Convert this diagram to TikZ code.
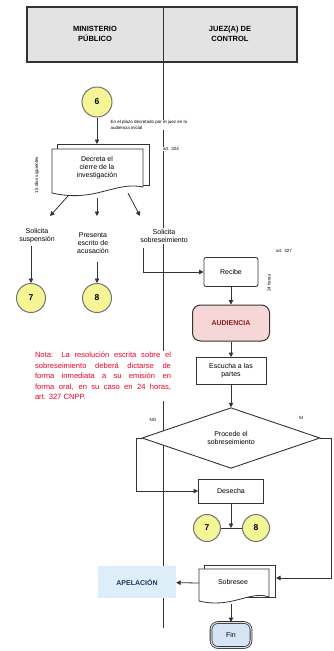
\documentclass[tikz,border=0pt]{standalone}
\usepackage{fontspec}
\setmainfont{Liberation Sans}
\usetikzlibrary{arrows.meta,shapes.geometric}
\definecolor{circfill}{RGB}{245,245,150}
\definecolor{audfill}{RGB}{246,214,214}
\definecolor{audtext}{RGB}{140,30,30}
\definecolor{apefill}{RGB}{222,238,248}
\definecolor{apetext}{RGB}{30,55,85}
\definecolor{finfill}{RGB}{215,228,245}
\definecolor{notered}{RGB}{240,0,40}
\begin{document}
\begin{tikzpicture}[x=1pt,y=-1pt,
  line/.style={draw=black!80, line width=0.8pt},
  arr/.style={line, -{Triangle[length=4.5pt,width=4.5pt]}},
  conn/.style={circle, draw=black!55, line width=1pt, fill=circfill, minimum size=28pt, inner sep=0pt, font=\fontsize{8.5}{9}\selectfont\bfseries},
  box/.style={draw=black!80, line width=0.8pt, fill=white, align=center, font=\fontsize{7}{8}\selectfont, inner sep=1pt},
  lbl/.style={align=center, font=\fontsize{7}{8}\selectfont, inner sep=1pt},
  small/.style={font=\fontsize{4.5}{5.5}\selectfont, inner sep=0.5pt},
  head/.style={align=center, font=\fontsize{7.5}{10}\selectfont\bfseries, inner sep=1pt}]
\useasboundingbox (0,0) rectangle (333,651);

% header
\fill[gray!22] (27,7) rectangle (297,62);
\draw[line width=1.2pt, draw=black!80] (27,7) rectangle (297,62);
\node[head] (h1) at (95,34) {MINISTERIO\\PÚBLICO};
\node[head] (h2) at (230,34) {JUEZ(A) DE\\CONTROL};
% lane line
\coordinate (laneTop) at (163,7);
\coordinate (laneBot) at (163,628);
\draw[line] (laneTop) -- (laneBot);

% circle 6
\node[conn, minimum size=30pt] (c6) at (97,102) {6};
\node[small, fill=white, anchor=west, align=left] (plazo) at (110,125) {En el plazo decretado por el juez en la\\audiencia inicial};

% document: Decreta el cierre
\draw[line, fill=white] (57,144) rectangle (149,185);
\draw[line, fill=white] (52,149) -- (143,149) -- (143,187) .. controls (115,181) and (95,203) .. (52,193) -- cycle;
\node[lbl] (dec) at (97,168) {Decreta el\\cierre de la\\investigación};
\coordinate (decTop) at (97,144);
\draw[arr] (c6) -- (decTop);
\node[small, fill=white] (art1) at (171,149) {art. 324};
\node[small, rotate=90] (rot1) at (37,175) {15 días siguientes};

% outputs
\coordinate (dL) at (68,196);
\coordinate (dM) at (97,198);
\coordinate (dR) at (128,193);
\node[lbl] (susp) at (37,236) {Solicita\\suspensión};
\node[lbl] (acus) at (93,243) {Presenta\\escrito de\\acusación};
\node[lbl, fill=white] (sobr) at (164,236) {Solicita\\sobreseimiento};
\draw[arr] (dL) -- (50,216);
\draw[arr] (dM) -- (97,216);
\draw[arr] (dR) -- (140,216);

\node[conn, minimum size=29pt] (c7a) at (31,298) {7};
\node[conn, minimum size=29pt] (c8a) at (97,298) {8};
\coordinate (s7) at (31,246);
\coordinate (s8) at (97,262);
\draw[arr] (s7) -- (c7a);
\draw[arr] (s8) -- (c8a);

% juez column
\node[box, minimum width=54pt, minimum height=29pt, rounded corners=2pt] (rec) at (231,272) {Recibe};
\coordinate (s9) at (143,248);
\draw[arr] (s9) |- (rec.west);
\node[small] (art2) at (284,251) {art. 327};
\node[small, rotate=90] (rot2) at (269,283) {24 horas};

\node[draw=black!80, line width=1pt, fill=audfill, rounded corners=8pt, minimum width=77pt, minimum height=36pt, font=\fontsize{7}{8}\selectfont\bfseries, text=audtext] (aud) at (231,323) {AUDIENCIA};
\draw[arr] (rec) -- (aud);

\node[box, minimum width=70pt, minimum height=27pt] (esc) at (231,371) {Escucha a las\\partes};
\draw[arr] (aud) -- (esc);

\node[text width=136pt, align=justify, font=\fontsize{7.6}{10.5}\selectfont, text=notered, fill=white, inner sep=1pt] (nota) at (103,376) {Nota: La resolución escrita sobre el\linebreak sobreseimiento deberá dictarse de\linebreak forma inmediata a su emisión en\linebreak forma oral, en su caso en 24 horas,\linebreak art. 327 CNPP.};

\node[diamond, draw=black!80, line width=0.9pt, fill=white, minimum width=178pt, minimum height=60pt, inner sep=0pt, align=center, font=\fontsize{7}{8}\selectfont] (dia) at (231,438) {Procede el\\sobreseimiento};
\draw[arr] (esc) -- (dia);
\node[small] (no) at (153,420) {NO};
\node[small] (si) at (301,418) {SI};

\node[box, minimum width=65pt, minimum height=24pt] (des) at (231,491) {Desecha};
\draw[arr] (dia.west) -- ++(-5,0) |- (des.west);

\node[conn, minimum size=27pt] (c7b) at (207,528) {7};
\node[conn, minimum size=27pt] (c8b) at (256,528) {8};
\coordinate (jn) at (231,528);
\draw[line] (c7b) -- (c8b);
\draw[arr] (des) -- (jn);

% Sobresee document
\draw[line, fill=white] (204,565) rectangle (275,597);
\draw[line, fill=white] (199,569) -- (269,569) -- (269,597) .. controls (250,590) and (232,609) .. (199,601) -- cycle;
\node[lbl] (sob) at (233,582) {Sobresee};
\coordinate (sobE) at (276,578);
\coordinate (sobW) at (199,583);
\coordinate (sobS) at (231,604);
\draw[arr] (dia.east) -- (331,438) |- (sobE);

\node[fill=apefill, minimum width=78pt, minimum height=32pt, font=\fontsize{7}{8}\selectfont\bfseries, text=apetext] (ape) at (137,582) {APELACIÓN};
\draw[arr] (sobW) -- (ape);

\node[draw=black!80, line width=0.8pt, double=finfill, double distance=1pt, fill=finfill, rounded corners=7pt, minimum width=40pt, minimum height=25pt, font=\fontsize{7}{8}\selectfont] (fin) at (231,635) {Fin};
\draw[arr] (sobS) -- (fin);
\end{tikzpicture}
\end{document}
